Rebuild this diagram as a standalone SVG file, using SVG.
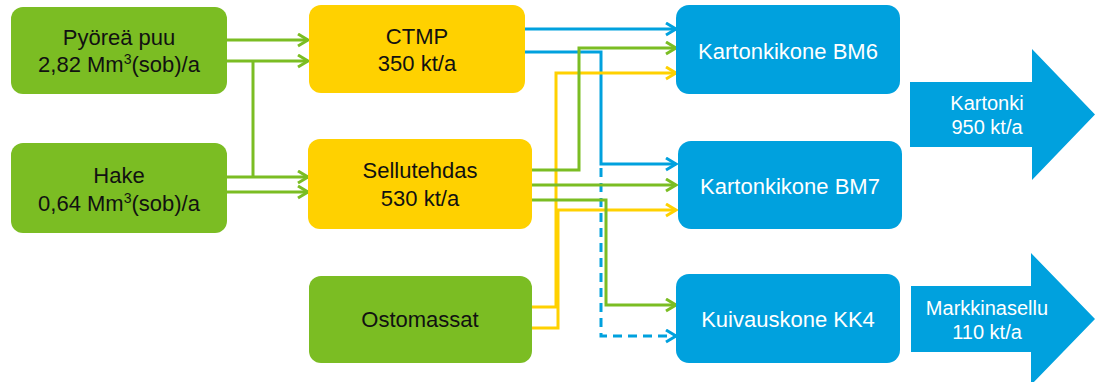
<svg xmlns="http://www.w3.org/2000/svg" width="1095" height="382" viewBox="0 0 1095 382">
<defs>
<style>
text{font-family:"Liberation Sans",Arial,sans-serif;text-anchor:middle}
.t{font-size:22px;fill:#111}
.w{font-size:22px;fill:#fff}
.a{font-size:20px;fill:#fff}
.g{fill:#7bbd23}
.y{fill:#ffd100}
.b{fill:#00a1de}
.c{fill:none;stroke-width:3;stroke-linejoin:miter}
.cg{stroke:#7bbd23}
.cy{stroke:#ffd100}
.cb{stroke:#00a1de}
</style>
<marker id="mg" markerUnits="userSpaceOnUse" markerWidth="14" markerHeight="16" refX="11" refY="7" orient="auto"><path d="M1,1 L11,7 L1,13" fill="none" stroke="#7bbd23" stroke-width="3"/></marker>
<marker id="my" markerUnits="userSpaceOnUse" markerWidth="14" markerHeight="16" refX="11" refY="7" orient="auto"><path d="M1,1 L11,7 L1,13" fill="none" stroke="#ffd100" stroke-width="3"/></marker>
<marker id="mb" markerUnits="userSpaceOnUse" markerWidth="14" markerHeight="16" refX="11" refY="7" orient="auto"><path d="M1,1 L11,7 L1,13" fill="none" stroke="#00a1de" stroke-width="3"/></marker>
</defs>
<rect width="1095" height="382" fill="#fff"/>
<g id="connectors">
<path class="c cg" d="M227,40 H308" marker-end="url(#mg)"/>
<path class="c cg" d="M227,61 H308" marker-end="url(#mg)"/>
<path class="c cg" d="M253,61 V177"/>
<path class="c cg" d="M227,177 H308" marker-end="url(#mg)"/>
<path class="c cg" d="M227,192 H308" marker-end="url(#mg)"/>
<path class="c cb" d="M525,29 H676" marker-end="url(#mb)"/>
<path class="c cb" d="M525,52 H601 V164 H676" marker-end="url(#mb)"/>
<path class="c cb" d="M601,168 V336 H676" stroke-dasharray="9,6" marker-end="url(#mb)"/>
<path class="c cy" d="M532,307 H556 V73 H676" marker-end="url(#my)"/>
<path class="c cy" d="M532,328 H558 V210 H676" marker-end="url(#my)"/>
<path class="c cg" d="M532,170 H579 V48 H676" marker-end="url(#mg)"/>
<path class="c cg" d="M532,185 H676" marker-end="url(#mg)"/>
<path class="c cg" d="M532,200 H606 V305 H676" marker-end="url(#mg)"/>
</g>
<g id="pyorea">
<rect class="g" x="11" y="7" width="216" height="87" rx="12"/>
<text class="t" x="119" y="45">Pyöreä puu</text>
<text class="t" x="119" y="72">2,82 Mm<tspan font-size="14" dy="-8">3</tspan><tspan dy="8">(sob)/a</tspan></text>
</g>
<g id="hake">
<rect class="g" x="11" y="143" width="216" height="90" rx="12"/>
<text class="t" x="119" y="183">Hake</text>
<text class="t" x="119" y="211">0,64 Mm<tspan font-size="14" dy="-8">3</tspan><tspan dy="8">(sob)/a</tspan></text>
</g>
<g id="ctmp">
<rect class="y" x="309" y="5" width="216" height="88" rx="12"/>
<text class="t" x="417" y="44">CTMP</text>
<text class="t" x="417" y="71">350 kt/a</text>
</g>
<g id="sellutehdas">
<rect class="y" x="308" y="139" width="224" height="90" rx="12"/>
<text class="t" x="420" y="178">Sellutehdas</text>
<text class="t" x="420" y="206">530 kt/a</text>
</g>
<g id="ostomassat">
<rect class="g" x="309" y="276" width="223" height="87" rx="12"/>
<text class="t" x="420" y="327">Ostomassat</text>
</g>
<g id="bm6">
<rect class="b" x="676" y="5" width="224" height="89" rx="13"/>
<text class="w" x="788" y="59">Kartonkikone BM6</text>
</g>
<g id="bm7">
<rect class="b" x="678" y="141" width="224" height="88" rx="13"/>
<text class="w" x="790" y="194">Kartonkikone BM7</text>
</g>
<g id="kk4">
<rect class="b" x="676" y="274" width="224" height="89" rx="13"/>
<text class="w" x="788" y="327">Kuivauskone KK4</text>
</g>
<g id="kartonki">
<polygon class="b" points="910,82 1032,82 1032,49 1095,114.5 1032,180 1032,147 910,147"/>
<text class="a" x="987" y="110">Kartonki</text>
<text class="a" x="987" y="134">950 kt/a</text>
</g>
<g id="markkinasellu">
<polygon class="b" points="911,286 1031,286 1031,253 1095,319 1031,385 1031,352 911,352"/>
<text class="a" x="987" y="315">Markkinasellu</text>
<text class="a" x="987" y="339">110 kt/a</text>
</g>
</svg>
